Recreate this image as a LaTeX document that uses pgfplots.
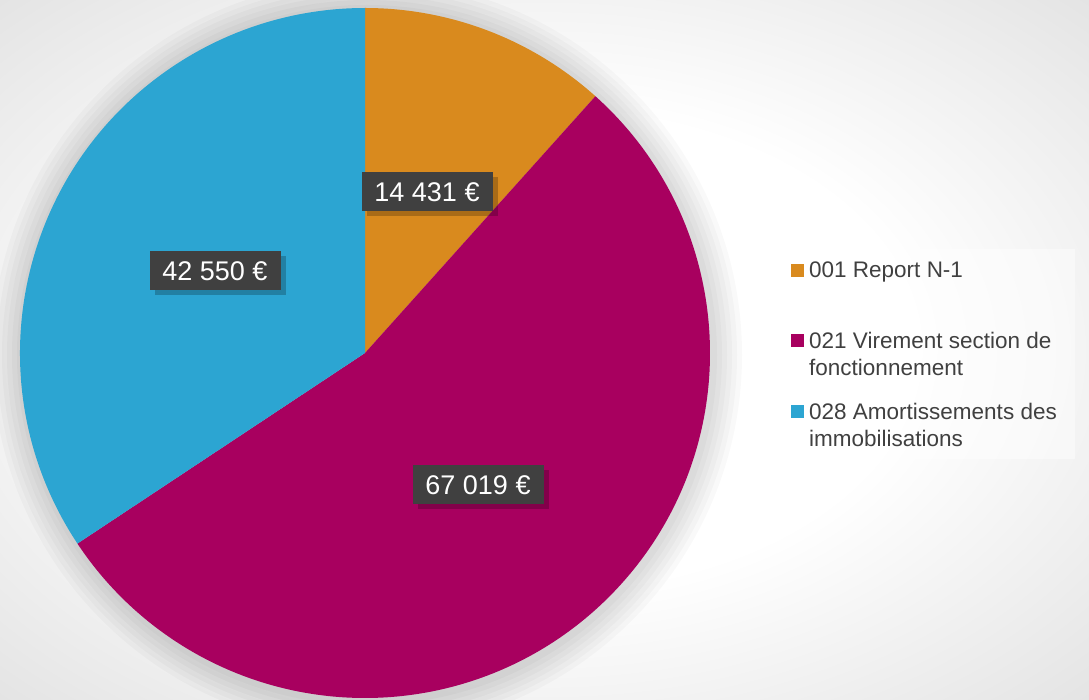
\documentclass[border=0pt]{standalone}
\usepackage{fontspec}
\setmainfont{Liberation Sans}
\usepackage{pgfplots}
\usepackage{pgfplotstable}
\pgfplotsset{compat=1.18}
\definecolor{cOr}{HTML}{D98A1E}
\definecolor{cMa}{HTML}{A8005F}
\definecolor{cBl}{HTML}{2CA5D2}
\definecolor{cLab}{HTML}{404040}
\definecolor{cTxt}{HTML}{404040}
\pgfdeclareradialshading{bgshade}{\pgfpoint{0bp}{0bp}}{color(0bp)=(white); color(17bp)=(white); color(50bp)=(black!19)}
\pgfplotstableread{
code value
001 14431
021 67019
028 42550
}\piedata
\begin{document}
\begin{tikzpicture}
\pgfplotstablegetelem{0}{value}\of\piedata \let\va\pgfplotsretval
\pgfplotstablegetelem{1}{value}\of\piedata \let\vb\pgfplotsretval
\pgfplotstablegetelem{2}{value}\of\piedata \let\vc\pgfplotsretval
\pgfkeys{/pgf/fpu=true,/pgf/fpu/output format=fixed}
\pgfmathsetmacro\tot{\va+\vb+\vc}
\pgfmathsetmacro\aA{90-360*\va/\tot}
\pgfmathsetmacro\aB{\aA-360*\vb/\tot}
\pgfmathsetmacro\aC{\aB-360*\vc/\tot}
\pgfkeys{/pgf/fpu=false}
\tikzset{lab/.style={fill=cLab, text=white, minimum width=131pt, minimum height=39pt, inner sep=0pt, font=\fontsize{27}{32}\selectfont},
  shd/.style={fill=black, fill opacity=0.22, minimum width=131pt, minimum height=39pt, inner sep=0pt, xshift=5pt, yshift=-5pt},
  halo/.style={overlay, fill=black, fill opacity=0.025},
  leg/.style={anchor=north west, text=cTxt, inner sep=0pt, align=left, font=\fontsize{22.5}{26.5}\selectfont}}
\begin{axis}[
  scale only axis, width=1089pt, height=699pt,
  xmin=0, xmax=1089, ymin=0, ymax=699,
  hide axis, clip=true,
]
% background
\shade[shading=bgshade] (axis cs:0,0) rectangle (axis cs:1089,699);
% soft shadow halo
\fill[halo] (axis cs:367,344) circle[radius=350pt];
\fill[halo] (axis cs:367,344) circle[radius=355pt];
\fill[halo] (axis cs:367,344) circle[radius=360pt];
\fill[halo] (axis cs:367,344) circle[radius=365pt];
\fill[halo] (axis cs:367,344) circle[radius=370pt];
\fill[halo] (axis cs:367,344) circle[radius=375pt];
% slices
\fill[cOr] (axis cs:365,346) -- ++(90:345pt) arc[start angle=90, end angle=\aA, radius=345pt] -- cycle;
\fill[cMa] (axis cs:365,346) -- ++(\aA:345pt) arc[start angle=\aA, end angle=\aB, radius=345pt] -- cycle;
\fill[cBl] (axis cs:365,346) -- ++(\aB:345pt) arc[start angle=\aB, end angle=\aC, radius=345pt] -- cycle;
% data labels
\node[shd] at (axis cs:427,507) {};
\node[lab] at (axis cs:427,507) {14 431 €};
\node[shd] at (axis cs:478,214) {};
\node[lab] at (axis cs:478,214) {67 019 €};
\node[shd] at (axis cs:215,428) {};
\node[lab] at (axis cs:215,428) {42 550 €};
% legend
\fill[white, fill opacity=0.45] (axis cs:779,240) rectangle (axis cs:1075,450);
\fill[cOr] (axis cs:791,422) rectangle (axis cs:804,435);
\node[leg] at (axis cs:809,437) {001 Report N-1};
\fill[cMa] (axis cs:791,352) rectangle (axis cs:804,365);
\node[leg] at (axis cs:809,367) {021 Virement section de\\fonctionnement};
\fill[cBl] (axis cs:791,281) rectangle (axis cs:804,294);
\node[leg] at (axis cs:809,296) {028 Amortissements des\\immobilisations};
\end{axis}
\end{tikzpicture}
\end{document}
